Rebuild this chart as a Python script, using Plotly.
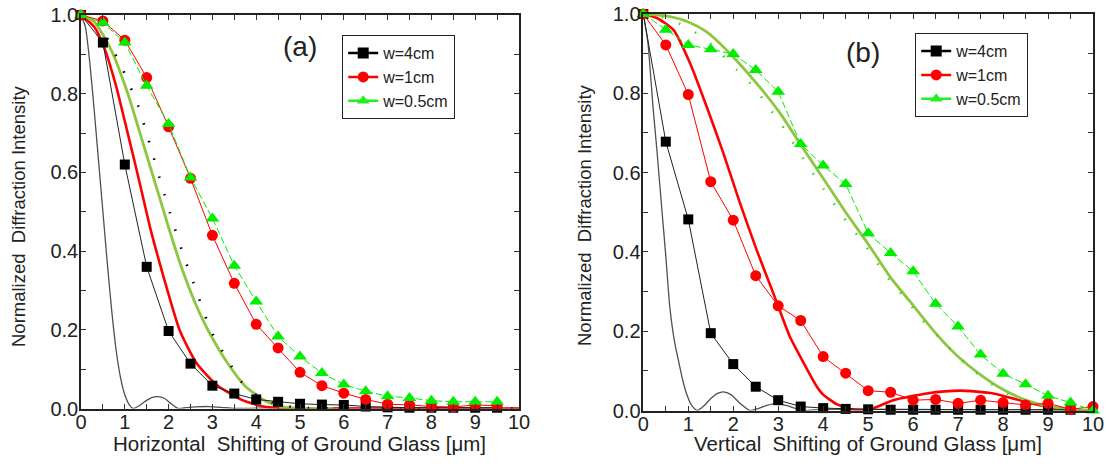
import plotly.graph_objects as go

W, H = 1109, 476

# ---------------- Panel (a) data ----------------
xa_pts = [0, 0.5, 1.0, 1.5, 2.0, 2.5, 3.0, 3.5, 4.0, 4.5, 5.0, 5.5, 6.0, 6.5, 7.0, 7.5, 8.0, 8.5, 9.0, 9.5]
a_w4 = [1.0, 0.93, 0.62, 0.36, 0.197, 0.114, 0.058, 0.038, 0.023, 0.017, 0.012, 0.010, 0.009, 0.005, 0.003, 0.002, 0.002, 0.002, 0.002, 0.002]
a_w1 = [1.0, 0.985, 0.936, 0.841, 0.716, 0.585, 0.44, 0.318, 0.214, 0.154, 0.092, 0.058, 0.039, 0.023, 0.011, 0.009, 0.005, 0.004, 0.009, 0.007]
a_w05 = [1.0, 0.98, 0.93, 0.82, 0.723, 0.587, 0.483, 0.363, 0.272, 0.183, 0.132, 0.090, 0.061, 0.044, 0.031, 0.027, 0.020, 0.017, 0.017, 0.017]

a_narrow_x = [0, 0.1, 0.2, 0.3, 0.4, 0.5, 0.6, 0.7, 0.8, 0.9, 1.0, 1.1, 1.19, 1.3, 1.45, 1.6, 1.76, 1.9, 2.05, 2.22, 2.4, 2.6, 2.9, 3.2, 3.5, 4.0, 10]
a_narrow_y = [1.0, 0.97, 0.88, 0.76, 0.63, 0.50, 0.37, 0.25, 0.15, 0.08, 0.035, 0.01, 0.0, 0.005, 0.017, 0.027, 0.030, 0.026, 0.013, 0.0, 0.002, 0.004, 0.005, 0.003, 0.0, 0.001, 0.0]

a_red_x = [0, 0.3, 0.52, 0.8, 1.0, 1.24, 1.43, 1.6, 1.82, 2.0, 2.26, 2.64, 3.1, 3.67, 4.16, 4.6, 5.0, 10]
a_red_y = [1.0, 0.97, 0.92, 0.82, 0.73, 0.62, 0.53, 0.45, 0.36, 0.29, 0.197, 0.115, 0.06, 0.022, 0.005, 0.001, 0.0, 0.0]

a_olive_x = [0, 0.3, 0.69, 1.07, 1.4, 1.81, 2.0, 2.29, 2.6, 2.91, 3.36, 3.74, 4.16, 4.54, 5.0, 5.75]
a_olive_y = [1.0, 0.983, 0.911, 0.80, 0.68, 0.53, 0.46, 0.36, 0.27, 0.197, 0.113, 0.058, 0.022, 0.005, 0.001, 0.0]

a_dot_x = [0, 0.4, 0.69, 0.92, 1.30, 1.57, 1.83, 2.10, 2.39, 2.56, 2.87, 3.07, 3.33, 3.63, 4.0, 4.5, 5.0, 10]
a_dot_y = [1.0, 0.98, 0.92, 0.870, 0.771, 0.672, 0.572, 0.472, 0.373, 0.322, 0.225, 0.174, 0.128, 0.072, 0.035, 0.01, 0.002, 0.0]

# ---------------- Panel (b) data ----------------
xb_pts = [0, 0.5, 1.0, 1.5, 2.0, 2.5, 3.0, 3.5, 4.0, 4.5, 5.0, 5.5, 6.0, 6.5, 7.0, 7.5, 8.0, 8.5, 9.0, 9.5, 10.0]
b_w4 = [1.0, 0.678, 0.482, 0.195, 0.117, 0.060, 0.026, 0.010, 0.006, 0.004, 0.003, 0.002, 0.002, 0.002, 0.002, 0.002, 0.002, 0.002, 0.002, 0.002, None]
b_w1 = [1.0, 0.922, 0.797, 0.577, 0.480, 0.340, 0.264, 0.227, 0.136, 0.094, 0.050, 0.046, 0.026, 0.028, 0.018, 0.026, 0.020, 0.014, 0.018, 0.003, 0.010]
b_w05 = [1.0, 0.960, 0.922, 0.911, 0.899, 0.859, 0.804, 0.672, 0.618, 0.571, 0.447, 0.397, 0.351, 0.269, 0.212, 0.141, 0.093, 0.066, 0.037, 0.020, 0.0]

b_narrow_x = [0, 0.1, 0.22, 0.3, 0.41, 0.5, 0.59, 0.7, 0.78, 0.88, 0.96, 1.08, 1.2, 1.35, 1.5, 1.65, 1.78, 1.95, 2.15, 2.37, 2.55, 2.75, 2.96, 3.2, 3.55, 4.0, 10]
b_narrow_y = [1.0, 0.93, 0.76, 0.66, 0.51, 0.39, 0.26, 0.17, 0.127, 0.075, 0.043, 0.012, 0.0, 0.012, 0.030, 0.043, 0.047, 0.040, 0.018, 0.0, 0.005, 0.013, 0.018, 0.012, 0.0, 0.003, 0.0]

b_red_x = [0, 0.3, 0.67, 1.04, 1.41, 1.78, 2.15, 2.52, 2.89, 3.26, 3.41, 3.85, 4.0, 4.3, 4.6, 4.85, 5.1, 5.56, 6.3, 7.04, 7.78, 8.37, 8.96, 9.56, 10]
b_red_y = [1.0, 0.99, 0.96, 0.876, 0.766, 0.649, 0.523, 0.405, 0.296, 0.186, 0.153, 0.062, 0.040, 0.016, 0.004, 0.0, 0.005, 0.026, 0.043, 0.050, 0.043, 0.026, 0.010, 0.001, 0.0]

b_olive_x = [0, 0.5, 1.0, 1.41, 1.93, 2.52, 3.04, 3.5, 4.15, 4.5, 5.0, 5.5, 5.93, 6.5, 6.96, 7.5, 8.0, 8.52, 8.96, 9.5, 10]
b_olive_y = [1.0, 0.995, 0.98, 0.955, 0.90, 0.825, 0.75, 0.67, 0.56, 0.50, 0.42, 0.335, 0.275, 0.195, 0.14, 0.09, 0.053, 0.026, 0.012, 0.003, 0.0]

b_dot_x = [0, 0.5, 1.0, 1.5, 2.08, 2.48, 2.78, 3.08, 3.5, 4.0, 4.5, 4.96, 5.26, 5.56, 5.89, 6.19, 6.56, 6.96, 7.37, 7.78, 8.22, 8.67, 9.2, 10]
b_dot_y = [1.0, 0.99, 0.965, 0.925, 0.859, 0.813, 0.766, 0.72, 0.645, 0.56, 0.48, 0.413, 0.363, 0.317, 0.274, 0.23, 0.186, 0.14, 0.098, 0.064, 0.035, 0.017, 0.006, 0.0]

series_names = ["w=4cm", "w=1cm", "w=0.5cm"]
x_ticks = list(range(0, 11))

BLACK = "#000000"
RED = "#FF0000"
GREEN = "#00EE00"
OLIVE = "#8DC63F"
GRAY = "#505050"

fig = go.Figure()


def add_panel(xa, ya, narrow, red, olive, dot, dotcolor, pts_x, w4, w1, w05):
    fig.add_trace(go.Scatter(x=narrow[0], y=narrow[1], mode="lines", line=dict(color=GRAY, width=1.3, shape="spline", smoothing=0.6),
                             xaxis=xa, yaxis=ya, showlegend=False, hoverinfo="skip"))
    fig.add_trace(go.Scatter(x=red[0], y=red[1], mode="lines", line=dict(color=RED, width=2.6, shape="spline", smoothing=0.6),
                             xaxis=xa, yaxis=ya, showlegend=False, hoverinfo="skip"))
    fig.add_trace(go.Scatter(x=olive[0], y=olive[1], mode="lines", line=dict(color=OLIVE, width=2.8, shape="spline", smoothing=0.6),
                             xaxis=xa, yaxis=ya, showlegend=False, hoverinfo="skip"))
    fig.add_trace(go.Scatter(x=dot[0], y=dot[1], mode="lines", line=dict(color=dotcolor, width=2.6, dash="1.5px,17px", shape="spline", smoothing=0.6),
                             xaxis=xa, yaxis=ya, showlegend=False, hoverinfo="skip"))
    fig.add_trace(go.Scatter(x=pts_x, y=w4, mode="lines+markers", line=dict(color="#222222", width=1),
                             marker=dict(symbol="square", size=10, color=BLACK), cliponaxis=False,
                             xaxis=xa, yaxis=ya, showlegend=False))
    fig.add_trace(go.Scatter(x=pts_x, y=w1, mode="lines+markers", line=dict(color=RED, width=1),
                             marker=dict(symbol="circle", size=11, color=RED), cliponaxis=False,
                             xaxis=xa, yaxis=ya, showlegend=False))
    fig.add_trace(go.Scatter(x=pts_x, y=w05, mode="lines+markers", line=dict(color=GREEN, width=1, dash="7px,3px"),
                             marker=dict(symbol="triangle-up", size=12, color=GREEN), cliponaxis=False,
                             xaxis=xa, yaxis=ya, showlegend=False))


add_panel("x", "y", (a_narrow_x, a_narrow_y), (a_red_x, a_red_y), (a_olive_x, a_olive_y), (a_dot_x, a_dot_y), BLACK,
          xa_pts, a_w4, a_w1, a_w05)
add_panel("x2", "y2", (b_narrow_x, b_narrow_y), (b_red_x, b_red_y), (b_olive_x, b_olive_y), (b_dot_x, b_dot_y), "#44CC22",
          xb_pts, b_w4, b_w1, b_w05)

# legend entries
leg_styles = [("square", BLACK), ("circle", RED), ("triangle-up", "#22EE22")]
for lg, xa, ya in [("legend", "x", "y"), ("legend2", "x2", "y2")]:
    for name, (sym, col) in zip(series_names, leg_styles):
        fig.add_trace(go.Scatter(x=[None], y=[None], mode="lines+markers", name=name,
                                 line=dict(color=col, width=2.5), marker=dict(symbol=sym, size=11, color=col),
                                 xaxis=xa, yaxis=ya, legend=lg, showlegend=True))

FONT = "Arial, Liberation Sans, sans-serif"
TXT = "#222222"
axis_common = dict(showline=True, linecolor="#222222", linewidth=1.5, mirror="ticks", ticks="inside", ticklen=5,
                   tickcolor="#333333", tickwidth=1.2, showgrid=False, zeroline=False, automargin=False,
                   tickfont=dict(family=FONT, size=20, color=TXT))

xa_common = dict(axis_common, range=[0, 10], tickvals=x_ticks, ticktext=[str(v) for v in x_ticks], ticklabelstandoff=-5,
                 minor=dict(dtick=0.5, tick0=0, ticks="inside", ticklen=5, tickcolor="#333333", tickwidth=1.2))
ya_common = dict(axis_common, range=[0, 1], dtick=0.2, tick0=0, tickformat=".1f", ticklabelstandoff=-3,
                 minor=dict(dtick=0.1, tick0=0, ticks="inside", ticklen=5, tickcolor="#333333", tickwidth=1.2))

leg_common = dict(bgcolor="white", bordercolor="#222222", borderwidth=1.2, font=dict(family=FONT, size=16, color=TXT),
                  xanchor="left", yanchor="top", tracegroupgap=0)


def ann(text, px, py, size, angle=0):
    return dict(text=text, x=px / W, y=1 - py / H, xref="paper", yref="paper", showarrow=False,
                xanchor="center", yanchor="middle", textangle=angle, font=dict(family=FONT, size=size, color=TXT))


fig.update_layout(
    width=W, height=H, margin=dict(l=0, r=0, t=0, b=0, autoexpand=False),
    paper_bgcolor="white", plot_bgcolor="white",
    xaxis=dict(xa_common, domain=[81 / W, 519 / W], anchor="y"),
    yaxis=dict(ya_common, domain=[(H - 408.5) / H, (H - 15) / H], anchor="x"),
    xaxis2=dict(xa_common, domain=[643.3 / W, 1093 / W], anchor="y2"),
    yaxis2=dict(ya_common, domain=[(H - 410.5) / H, (H - 14) / H], anchor="x2"),
    legend=dict(leg_common, x=342 / W, y=1 - 35 / H),
    legend2=dict(leg_common, x=915 / W, y=1 - 33 / H),
    annotations=[
        ann("(a)", 300, 47, 28),
        ann("(b)", 863, 52, 28),
        ann("Horizontal  Shifting of Ground Glass [μm]", 300, 443, 20.5),
        ann("Vertical  Shifting of Ground Glass [μm]", 868, 443, 20.5),
        ann("Normalized  Diffraction Intensity", 19, 216, 18.5, -90),
        ann("Normalized  Diffraction Intensity", 585, 215, 18.5, -90),
    ],
)

fig.write_html("out.html", config={"displayModeBar": False}, post_script="document.body.style.margin='0px';")
